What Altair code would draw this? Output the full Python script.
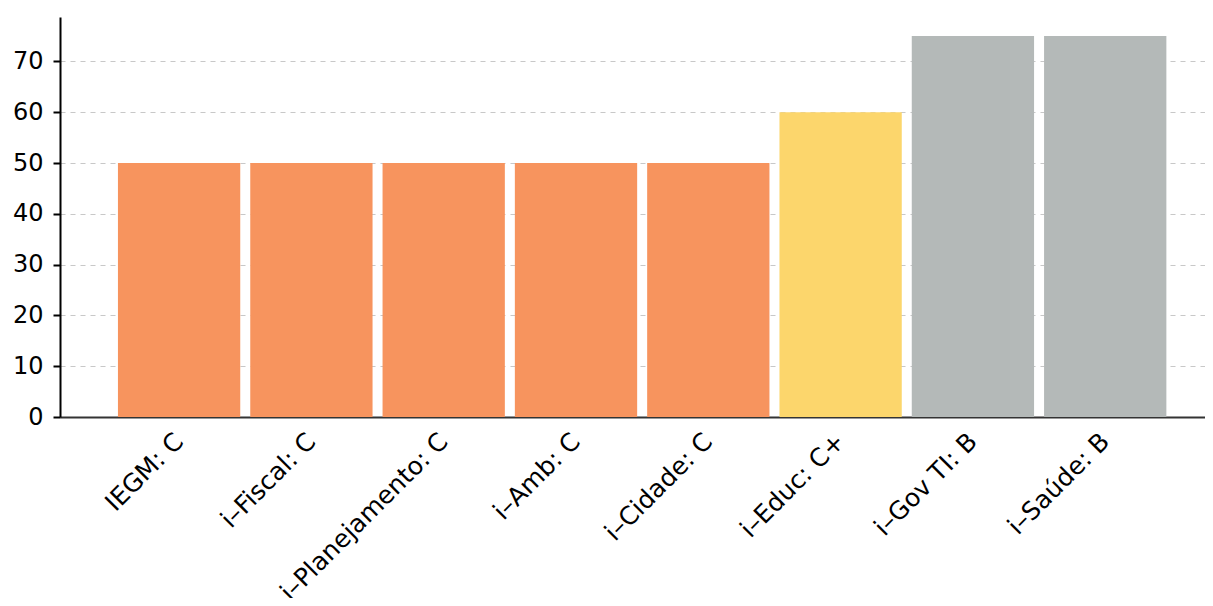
import altair as alt
import pandas as pd

categories = ["IEGM: C", "i–Fiscal: C", "i–Planejamento: C", "i–Amb: C",
              "i–Cidade: C", "i–Educ: C+", "i–Gov TI: B", "i–Saúde: B"]
values = [50, 50, 50, 50, 50, 60, 75, 75]
colors = ["#F7945E", "#F7945E", "#F7945E", "#F7945E",
          "#F7945E", "#FCD66C", "#B4B9B8", "#B4B9B8"]

df = pd.DataFrame({"cat": categories, "val": values, "color": colors})

chart = alt.Chart(df).mark_bar().encode(
    x=alt.X("cat:N", sort=categories, title=None,
            scale=alt.Scale(paddingInner=0.0756, paddingOuter=0.365, align=0.6),
            axis=alt.Axis(labelAngle=-45, labelAlign="right", labelBaseline="middle",
                          ticks=False, labelPadding=20, labelFontSize=25, labelLimit=500,
                          labelFont="DejaVu Sans", labelColor="#000",
                          domainColor="#333", domainWidth=2, grid=False)),
    y=alt.Y("val:Q", title=None,
            scale=alt.Scale(domain=[0, 78.75], nice=False),
            axis=alt.Axis(values=[0, 10, 20, 30, 40, 50, 60, 70], tickSize=7,
                          tickColor="#000", tickWidth=2, labelPadding=10,
                          labelFontSize=24, labelFont="DejaVu Sans", labelColor="#000",
                          domainColor="#000", domainWidth=2,
                          grid=True, gridColor="#c8c8c8", gridDash=[5, 5], gridWidth=1.2)),
    color=alt.Color("color:N", scale=None),
).properties(
    width=1145, height=400,
    autosize=alt.AutoSizeParams(type="none"),
    padding={"left": 52, "top": 9, "right": 0, "bottom": 181},
).configure_view(stroke=None)

chart.save("out.html", embed_options={"renderer": "svg", "actions": False})
